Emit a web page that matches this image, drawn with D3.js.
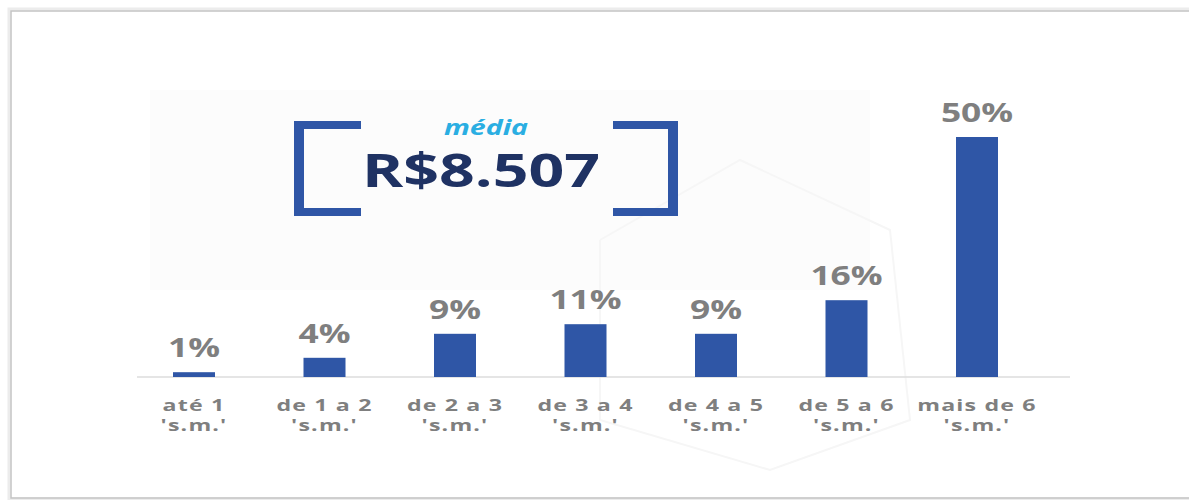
<!DOCTYPE html>
<html>
<head>
<meta charset="utf-8">
<script src="https://cdn.jsdelivr.net/npm/d3@7"></script>
<style>
  body { margin: 0; background: #fff; overflow: hidden; }
  text { font-family: "Open Sans", "DejaVu Sans", sans-serif; font-weight: 700; }
</style>
</head>
<body>
<div id="master"></div>
<script>
// data
let categories = ["até 1", "de 1 a 2", "de 2 a 3", "de 3 a 4", "de 4 a 5", "de 5 a 6", "mais de 6"]
let subLabel = "'s.m.'"
let shares = [1, 4, 9, 11, 9, 16, 50]
let mediaLabel = "média"
let mediaValue = "R$8.507"

let w = 1189, h = 500
let stretch = 1.36   // the source picture is widened, text included
let barColor = "#2f56a6"
let gray = "#7f7f7f"

let svg = d3.select("#master").append("svg")
  .attr("width", w).attr("height", h).style("display", "block")

// frame: left, top and bottom edges only, with a soft shadow
let edge = d3.line()
svg.append("path").attr("d", edge([[w, 9], [9, 9], [9, 499], [w, 499]]))
  .attr("fill", "none").attr("stroke", "#ececec").attr("stroke-width", 3)
svg.append("path").attr("d", edge([[w, 11], [11, 11], [11, 498], [w, 498]]))
  .attr("fill", "none").attr("stroke", "#c4c4c4").attr("stroke-width", 1.5)

// faint background decoration
svg.append("rect").attr("x", 150).attr("y", 90).attr("width", 720).attr("height", 200)
  .attr("fill", "#fcfcfc")
svg.append("path")
  .attr("d", edge([[600, 240], [740, 160], [890, 230], [910, 420], [770, 470], [600, 420], [600, 240]]))
  .attr("fill", "none").attr("stroke", "#f6f6f6").attr("stroke-width", 2)

let x = d3.scalePoint().domain(categories).range([194, 977])
let y = d3.scaleLinear().domain([0, 50]).range([377, 137])
let barW = 42

// baseline
svg.append("line").attr("x1", 137).attr("x2", 1070).attr("y1", y(0)).attr("y2", y(0))
  .attr("stroke", "#dcdcdc").attr("stroke-width", 1.5)

svg.append("g").selectAll("rect")
  .data(shares).enter().append("rect")
  .attr("x", (d, i) => x(categories[i]) - barW / 2)
  .attr("y", d => y(d))
  .attr("width", barW)
  .attr("height", d => y(0) - y(d))
  .attr("fill", barColor)

// value labels
svg.append("g").selectAll("text")
  .data(shares).enter().append("text")
  .attr("transform", (d, i) => "translate(" + x(categories[i]) + "," + (y(d) - 15) + ") scale(" + stretch + ",1)")
  .attr("text-anchor", "middle")
  .attr("font-size", 26)
  .attr("fill", gray)
  .text(d => d + "%")

// category labels
let cat = svg.append("g").selectAll("g")
  .data(categories).enter().append("g")
  .attr("transform", d => "translate(" + x(d) + ",0)")
cat.append("text")
  .attr("transform", "translate(0,411) scale(1.45,1)")
  .attr("text-anchor", "middle").attr("font-size", 16).attr("letter-spacing", 0.8).attr("fill", gray)
  .text(d => d)
cat.append("text")
  .attr("transform", "translate(0,431) scale(1.45,1)")
  .attr("text-anchor", "middle").attr("font-size", 16).attr("letter-spacing", 0.8).attr("fill", gray)
  .text(subLabel)

// brackets around the average
let bw = 10, bt = 8, bTop = 121, bBot = 216
let bracket = d3.line()
svg.append("path")
  .attr("d", bracket([[361, bTop], [294, bTop], [294, bBot], [361, bBot], [361, bBot - bt], [294 + bw, bBot - bt], [294 + bw, bTop + bt], [361, bTop + bt]]) + "Z")
  .attr("fill", barColor)
svg.append("path")
  .attr("d", bracket([[613, bTop], [678, bTop], [678, bBot], [613, bBot], [613, bBot - bt], [678 - bw, bBot - bt], [678 - bw, bTop + bt], [613, bTop + bt]]) + "Z")
  .attr("fill", barColor)

svg.append("text")
  .attr("transform", "translate(486,135) scale(" + stretch + ",1)")
  .attr("text-anchor", "middle").attr("font-size", 21).attr("font-style", "italic")
  .attr("fill", "#2aaee2")
  .text(mediaLabel)
svg.append("text")
  .attr("transform", "translate(481,187) scale(" + stretch + ",1)")
  .attr("text-anchor", "middle").attr("font-size", 46)
  .attr("fill", "#1f3263")
  .text(mediaValue)
</script>
</body>
</html>
